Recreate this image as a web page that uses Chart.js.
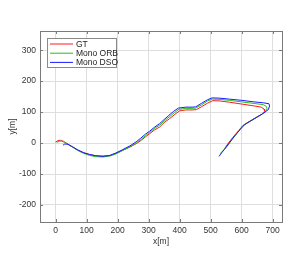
<!DOCTYPE html>
<html>
<head>
<meta charset="utf-8">
<script src="https://cdn.jsdelivr.net/npm/chart.js@4"></script>
<style>
  html, body { margin: 0; padding: 0; background: #fff; }
  #wrap { width: 305px; height: 273px; }
</style>
</head>
<body>
<div id="wrap"><canvas id="traj" width="305" height="273"></canvas></div>
<script>
/* trajectories, [x, y] in metres */
const labels = ["GT", "Mono ORB", "Mono DSO"];
const colours = ["#ff1a1a", "#22c022", "#1a1aff"];

const gtPath = [[0,3],[8,8],[16,9],[25,6],[35,0],[50,-10],[70,-22],[90,-31],[110,-37],[130,-41],[153,-42],[175,-40],[195,-33],[215,-24],[240,-13],[260,-2],[275,8],[290,20],[303,30],[320,43],[336,52],[350,66],[368,79],[385,93],[400,104],[420,107],[440,107],[454,108],[470,117],[490,129],[507,137],[530,136],[560,132],[600,126],[640,120],[663,116],[672,110],[674,103],[665,93],[645,82],[620,67],[604,57],[590,40],[572,19],[555,-3],[545,-18]];
const orbPath = [[4,2],[12,6],[20,6],[30,2],[40,-4],[55,-13],[70,-23],[90,-33],[110,-40],[130,-44],[153,-45],[175,-42],[195,-35],[215,-25],[240,-12],[260,0],[275,11],[290,24],[303,34],[320,48],[336,58],[350,71],[366,84],[383,98],[398,109],[420,112],[440,112],[452,113],[470,123],[490,136],[505,142],[530,141],[560,138],[600,133],[640,128],[670,124],[680,118],[682,110],[675,100],[660,90],[640,78],[620,66],[604,55],[590,38],[572,16],[555,-8],[540,-24],[531,-34]];
const dsoPath = [[24,-7],[30,-3],[40,-4],[55,-12],[70,-21],[90,-31],[110,-37],[130,-41],[153,-43],[175,-40],[195,-32],[215,-22],[240,-9],[260,4],[275,16],[290,29],[303,38],[320,52],[336,63],[350,76],[365,89],[380,102],[396,113],[420,116],[440,116],[452,117],[470,128],[490,140],[505,146],[530,145],[560,142],[600,138],[640,133],[670,130],[688,127],[690,120],[686,108],[670,96],[650,84],[630,72],[610,60],[596,45],[580,26],[562,3],[545,-20],[535,-32],[527,-43]];
const paths = [gtPath, orbPath, dsoPath];

const xTicks = [0, 100, 200, 300, 400, 500, 600, 700];
const yTicks = [-200, -100, 0, 100, 200, 300];

const font = { family: "'Liberation Sans', Arial, sans-serif", size: 8.5 };

/* box round the plot with inward ticks, like matlab */
const boxPlugin = {
    id: "box",
    afterDatasetsDraw(chart) {
        const { ctx, chartArea: a, scales } = chart;
        ctx.save();
        ctx.strokeStyle = "#7a7a7a";
        ctx.lineWidth = 1;
        ctx.strokeRect(Math.round(a.left) + 0.5, Math.round(a.top) + 0.5,
            Math.round(a.right - a.left), Math.round(a.bottom - a.top));
        ctx.beginPath();
        xTicks.forEach(v => {
            const px = Math.round(scales.x.getPixelForValue(v)) + 0.5;
            ctx.moveTo(px, a.bottom); ctx.lineTo(px, a.bottom - 3);
            ctx.moveTo(px, a.top); ctx.lineTo(px, a.top + 3);
        });
        yTicks.forEach(v => {
            const py = Math.round(scales.y.getPixelForValue(v)) + 0.5;
            ctx.moveTo(a.left, py); ctx.lineTo(a.left + 3, py);
            ctx.moveTo(a.right, py); ctx.lineTo(a.right - 3, py);
        });
        ctx.stroke();

        /* legend box in the top left corner */
        const lx = a.left + 7, ly = a.top + 7, lw = 69, lh = 29;
        ctx.fillStyle = "#fff";
        ctx.fillRect(lx, ly, lw, lh);
        ctx.strokeStyle = "#8a8a8a";
        ctx.strokeRect(lx + 0.5, ly + 0.5, lw, lh);
        ctx.font = "8.5px 'Liberation Sans', Arial, sans-serif";
        ctx.textBaseline = "middle";
        chart.data.datasets.forEach((ds, i) => {
            const y = ly + 6 + i * 9.2;
            ctx.strokeStyle = ds.borderColor;
            ctx.beginPath();
            ctx.moveTo(lx + 3, y); ctx.lineTo(lx + 26, y);
            ctx.stroke();
            ctx.fillStyle = "#222";
            ctx.fillText(ds.label, lx + 29, y + 0.5);
        });
        ctx.restore();
    }
};

const ctx = document.getElementById("traj").getContext("2d");

const chart = new Chart(ctx, {
    type: "scatter",
    data: {
        datasets: paths.map((p, i) => ({
            label: labels[i],
            data: p.map(q => ({ x: q[0], y: q[1] })),
            showLine: true,
            borderColor: colours[i],
            borderWidth: 1,
            pointRadius: 0,
            fill: false,
            order: 2 - i
        }))
    },
    options: {
        responsive: false,
        animation: false,
        layout: { padding: { left: 0, top: 31, right: 23, bottom: 26 } },
        plugins: { legend: { display: false }, tooltip: { enabled: false } },
        scales: {
            x: {
                type: "linear", min: -50, max: 730,
                afterBuildTicks: s => { s.ticks = xTicks.map(v => ({ value: v })); },
                afterFit: s => { s.height = 25; },
                grid: { color: "#dedede", borderDash: [1, 3], drawTicks: false },
                border: { display: false },
                ticks: { font: font, color: "#333", padding: 4 },
                title: { display: true, text: "x[m]", font: font, color: "#333", padding: { top: 0, bottom: 0 } }
            },
            y: {
                type: "linear", min: -255, max: 362,
                afterBuildTicks: s => { s.ticks = yTicks.map(v => ({ value: v })); },
                afterFit: s => { s.width = 40; },
                grid: { color: "#dedede", borderDash: [1, 3], drawTicks: false },
                border: { display: false },
                ticks: { font: font, color: "#333", padding: 4 },
                title: { display: true, text: "y[m]", font: font, color: "#333", padding: { top: 8, bottom: 0 } }
            }
        }
    },
    plugins: [boxPlugin]
});
</script>
</body>
</html>
